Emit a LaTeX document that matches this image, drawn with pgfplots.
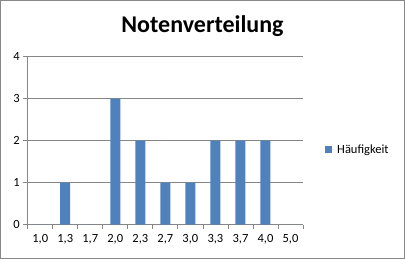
\documentclass[border=0pt]{standalone}
\usepackage{pgfplots}
\pgfplotsset{compat=1.18}
\usepackage{fontspec}
\setmainfont{Carlito}
\definecolor{barblue}{HTML}{4F81BD}
\definecolor{gridgray}{HTML}{868686}
\definecolor{framegray}{HTML}{888888}
\begin{document}
\begin{tikzpicture}[x=1bp,y=1bp]
\useasboundingbox (0,0) rectangle (405,259);
\draw[framegray, line width=1bp] (0.5,0.5) rectangle (404.5,258.5);
\node[font=\fontsize{24bp}{28bp}\selectfont\bfseries, anchor=base] at (202.5,227) {Notenverteilung};
\begin{axis}[
  at={(27.7bp,34.3bp)}, anchor=south west,
  scale only axis, width=275.3bp, height=168bp,
  xmin=-0.5, xmax=10.5, ymin=0, ymax=4,
  axis lines*=left,
  axis line style={gridgray, line width=0.75bp, -},
  xtick={0,...,10},
  xticklabels={{1,0},{1,3},{1,7},{2,0},{2,3},{2,7},{3,0},{3,3},{3,7},{4,0},{5,0}},
  major x tick style={draw=none},
  minor xtick={-0.5,0.5,...,10.5},
  minor tick length=4.5bp,
  ytick={0,1,2,3,4},
  major tick length=4.5bp,
  tick align=outside,
  tick style={gridgray, line width=0.75bp},
  ymajorgrids,
  grid style={gridgray, line width=0.75bp},
  /pgf/number format/assume math mode=true,
  tick label style={font=\fontsize{12.5bp}{14bp}\selectfont, black},
  xticklabel style={yshift=-2bp},
  ybar, bar width=10bp,
  legend style={draw=none, at={(1.08,0.445)}, anchor=west, fill=none,
    font=\fontsize{12.5bp}{14bp}\selectfont, inner sep=0pt},
  legend image code/.code={\fill[barblue] (0bp,-3.5bp) rectangle (7bp,3.5bp); \path (0bp,0bp) -- (10bp,0bp);},
]
\addplot[fill=barblue, draw=none] coordinates {
(0,0) (1,1) (2,0) (3,3) (4,2) (5,1) (6,1) (7,2) (8,2) (9,2) (10,0)};
\addlegendentry{Häufigkeit}
\end{axis}
\end{tikzpicture}
\end{document}
